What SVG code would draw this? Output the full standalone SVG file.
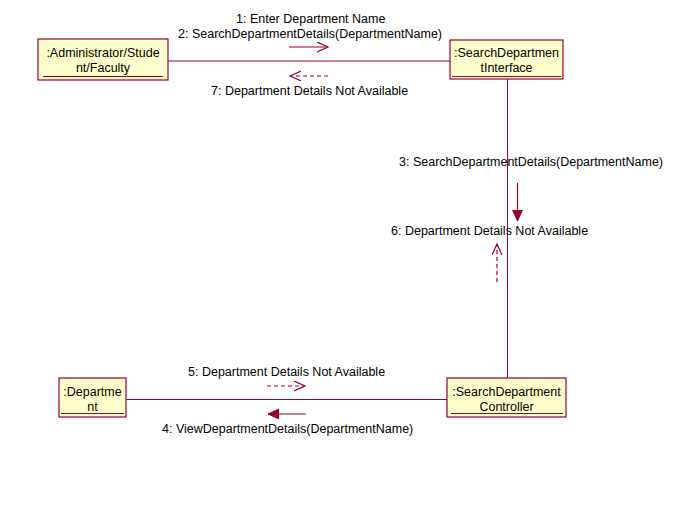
<svg xmlns="http://www.w3.org/2000/svg" width="689" height="514" viewBox="0 0 689 514">
<style>
.box{fill:#FFFFCC;stroke:#990033;stroke-width:1.2}
.ul{stroke:#990033;stroke-width:1}
.link{stroke:#990033;stroke-width:1;fill:none}
.msg{stroke:#990033;stroke-width:1.2;fill:none}
.dash{stroke-dasharray:4,3}
text{font-family:"Liberation Sans",Arial,sans-serif;font-size:12.5px;fill:#000}
.c{text-anchor:middle}
</style>
<defs>
<marker id="open" markerUnits="userSpaceOnUse" markerWidth="14" markerHeight="12" refX="11" refY="5" orient="auto">
<path d="M0,0 L11,5 L0,10" fill="none" stroke="#990033" stroke-width="1.2"/>
</marker>
<marker id="filled" markerUnits="userSpaceOnUse" markerWidth="14" markerHeight="12" refX="11" refY="5" orient="auto">
<path d="M0,0 L11,5 L0,10 z" fill="#990033" stroke="#990033" stroke-width="1"/>
</marker>
</defs>
<rect width="689" height="514" fill="#fff"/>
<g id="connectors">
<line class="link" x1="168" y1="61" x2="450" y2="61"/>
<line class="link" x1="507.5" y1="79" x2="507.5" y2="378"/>
<line class="link" x1="126" y1="399.5" x2="447" y2="399.5"/>
<line class="msg" x1="289" y1="47" x2="328" y2="47" marker-end="url(#open)"/>
<line class="msg dash" x1="328" y1="76" x2="290" y2="76" marker-end="url(#open)"/>
<line class="msg" x1="517.5" y1="183" x2="517.5" y2="221" marker-end="url(#filled)"/>
<line class="msg dash" x1="497" y1="282" x2="497" y2="244" marker-end="url(#open)"/>
<line class="msg dash" x1="267" y1="386" x2="305" y2="386" marker-end="url(#open)"/>
<line class="msg" x1="306" y1="414" x2="268" y2="414" marker-end="url(#filled)"/>
<text x="236" y="23">1: Enter Department Name</text>
<text x="178" y="38">2: SearchDepartmentDetails(DepartmentName)</text>
<text x="211" y="95">7: Department Details Not Available</text>
<text x="399" y="166">3: SearchDepartmentDetails(DepartmentName)</text>
<text x="391" y="235">6: Department Details Not Available</text>
<text x="188" y="376">5: Department Details Not Available</text>
<text x="162" y="433">4: ViewDepartmentDetails(DepartmentName)</text>
</g>
<g id="actor">
<rect class="box" x="38" y="39" width="130" height="41"/>
<line class="ul" x1="43" y1="76.5" x2="163" y2="76.5"/>
<text x="103" y="57" class="c">:Administrator/Stude</text>
<text x="103" y="72" class="c">nt/Faculty</text>
</g>
<g id="interface">
<rect class="box" x="450" y="40" width="113" height="39"/>
<line class="ul" x1="452" y1="76.5" x2="561" y2="76.5"/>
<text x="506.5" y="57" class="c">:SearchDepartmen</text>
<text x="506.5" y="72" class="c">tInterface</text>
</g>
<g id="controller">
<rect class="box" x="447" y="378" width="119" height="39"/>
<line class="ul" x1="451" y1="413.5" x2="563" y2="413.5"/>
<text x="506.5" y="396" class="c">:SearchDepartment</text>
<text x="506.5" y="411" class="c">Controller</text>
</g>
<g id="department">
<rect class="box" x="59" y="378" width="67" height="39"/>
<line class="ul" x1="61" y1="413.5" x2="124" y2="413.5"/>
<text x="92.5" y="396" class="c">:Departme</text>
<text x="92.5" y="411" class="c">nt</text>
</g>
</svg>
